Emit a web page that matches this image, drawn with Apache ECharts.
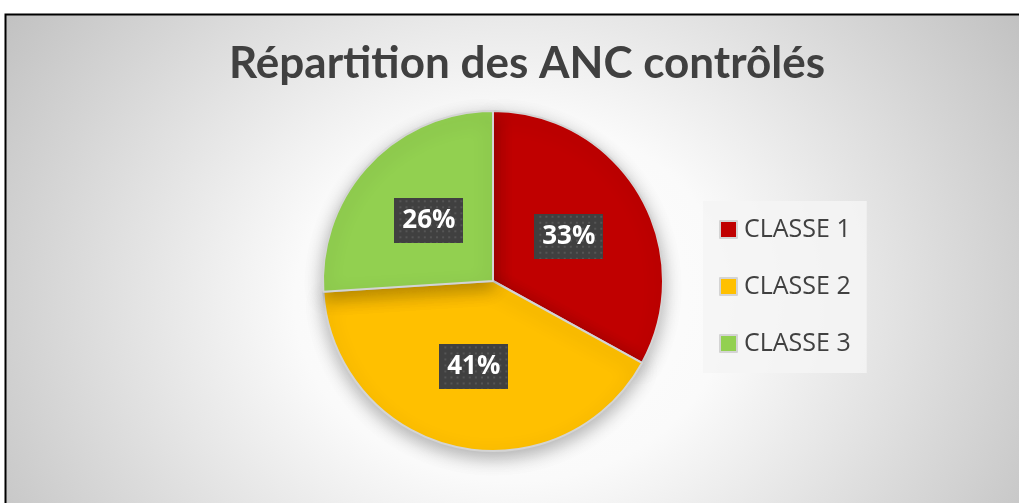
<!DOCTYPE html>
<html><head><meta charset="utf-8">
<script src="https://cdn.jsdelivr.net/npm/echarts@6/dist/echarts.min.js"></script>
<style>html,body{margin:0;padding:0;background:#fff}#c{width:1019px;height:503px}</style>
</head><body><div id="c"></div>
<script>
const titleText = "Répartition des ANC contrôlés";
const categories = ["CLASSE 1", "CLASSE 2", "CLASSE 3"];
const values = [33, 41, 26];
const colors = ["#C00000", "#FFC000", "#92D050"];

// background canvas with elliptical radial gradient
const bg = document.createElement('canvas');
bg.width = 1019; bg.height = 503;
(function(){
  const ctx = bg.getContext('2d');
  ctx.fillStyle = '#fff'; ctx.fillRect(0,0,1019,503);
  ctx.save();
  ctx.beginPath(); ctx.rect(5,14,1100,600); ctx.clip();
  ctx.translate(512,300); ctx.scale(620/520,1);
  const g = ctx.createRadialGradient(0,0,0,0,0,520);
  g.addColorStop(0,'#ffffff'); g.addColorStop(0.35,'#fafafa'); g.addColorStop(1,'#c0c0c0');
  ctx.fillStyle = g; ctx.fillRect(-600,-400,1200,800);
  ctx.restore();
  ctx.strokeStyle = '#000'; ctx.lineWidth = 2;
  ctx.beginPath(); ctx.moveTo(5.5,510); ctx.lineTo(5.5,14.5); ctx.lineTo(1030,14.5); ctx.stroke();
})();

// dotted label background
const lb = document.createElement('canvas');
lb.width = 68; lb.height = 45;
(function(){
  const ctx = lb.getContext('2d');
  ctx.fillStyle = '#404040'; ctx.fillRect(0,0,68,45);
  ctx.fillStyle = '#555555';
  for (let y = 2; y < 45; y += 6) for (let x = (y/6)%2 ? 5 : 2; x < 68; x += 6) ctx.fillRect(x,y,2,2);
})();

const chart = echarts.init(document.getElementById('c'));
chart.setOption({
  animation: false,
  graphic: [{type:'image', left:0, top:0, z:-10, silent:true, style:{image: bg, width:1019, height:503}}],
  title: {
    text: titleText, left: 522, top: 37, textAlign: 'center',
    textStyle: {fontFamily: 'Lato', fontWeight: 'bold', fontSize: 44, color: '#404040'}
  },
  legend: {
    orient: 'vertical', left: 703, top: 201,
    padding: [16, 16, 17, 16], itemGap: 32, itemWidth: 17, itemHeight: 17, icon: 'rect',
    backgroundColor: 'rgba(244,244,244,0.85)',
    textStyle: {fontFamily: 'Open Sans', fontSize: 25, lineHeight: 24, color: '#404040', padding: [0,0,0,2]},
    data: categories
  },
  series: [{
    type: 'pie', center: [493, 281], radius: 170, startAngle: 90, clockwise: true,
    color: colors,
    itemStyle: {borderColor: '#d4d4d4', borderWidth: 2, shadowBlur: 18, shadowOffsetY: 6, shadowColor: 'rgba(0,0,0,0.3)'},
    label: {
      position: 'inside', formatter: '{c}%',
      fontFamily: 'Open Sans', fontWeight: 'bold', fontSize: 26, lineHeight: 27, color: '#fff',
      backgroundColor: {image: lb}, padding: [9, 8],
      shadowBlur: 7, shadowOffsetX: 3, shadowOffsetY: 4, shadowColor: 'rgba(0,0,0,0.55)'
    },
    labelLine: {show: false},
    emphasis: {disabled: true},
    data: categories.map((n, i) => ({name: n, value: values[i]}))
  }]
});
</script></body></html>
